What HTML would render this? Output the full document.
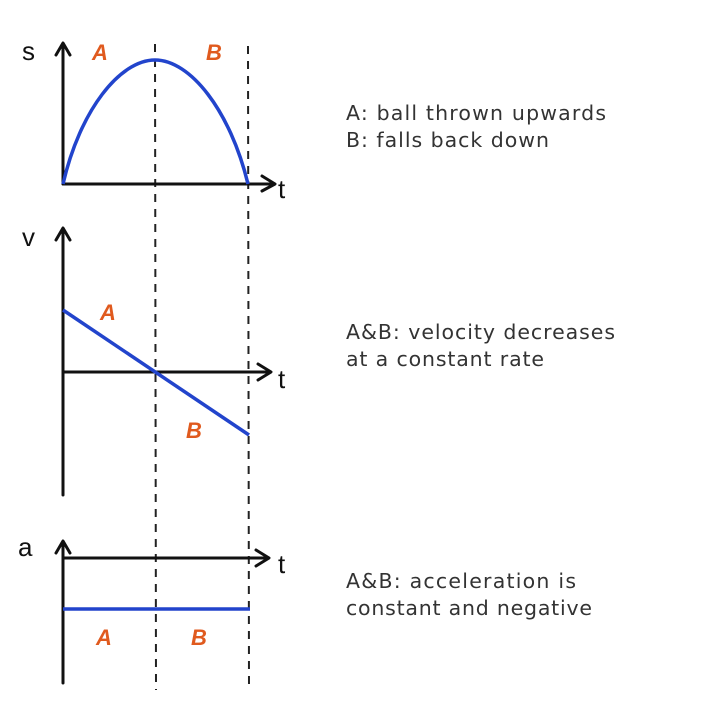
<!DOCTYPE html>
<html><head><meta charset="utf-8"><style>
html,body{margin:0;padding:0;background:#fff;}
svg{display:block}
</style></head><body>
<svg width="720" height="715" viewBox="0 0 720 715" xmlns="http://www.w3.org/2000/svg">
<rect width="720" height="715" fill="#fff"/>
<g stroke="#222" stroke-width="2" stroke-dasharray="8,7" fill="none">
<line x1="155" y1="44" x2="156" y2="690"/>
<line x1="248" y1="46" x2="249" y2="690"/>
</g>
<g stroke="#111" stroke-width="3" fill="none" stroke-linecap="round" stroke-linejoin="round">
<line x1="63" y1="184" x2="63" y2="44"/>
<polyline points="56,55 63,43 70,55"/>
<line x1="63" y1="184" x2="274" y2="184"/>
<polyline points="262,176 275,184 262,191"/>
<line x1="63" y1="495" x2="63" y2="229"/>
<polyline points="56,240 63,228 70,240"/>
<line x1="63" y1="372" x2="270" y2="372"/>
<polyline points="258,364 271,372 258,380"/>
<line x1="63" y1="683" x2="63" y2="542"/>
<polyline points="56,553 63,541 70,553"/>
<line x1="63" y1="558" x2="268" y2="558"/>
<polyline points="256,550 269,558 256,566"/>
</g>
<g stroke="#2244cc" stroke-width="3.5" fill="none">
<path d="M63,184 C80,110 120,60 155,60 C190,60 230,110 248,184"/>
<line x1="63" y1="310" x2="249" y2="435"/>
<line x1="63" y1="609" x2="250" y2="609"/>
</g>
<g font-family="Liberation Sans, sans-serif" font-weight="bold" font-style="italic" fill="#e05a1e" font-size="22">
<text x="92" y="60">A</text>
<text x="206" y="60">B</text>
<text x="100" y="320">A</text>
<text x="186" y="438">B</text>
<text x="96" y="645">A</text>
<text x="191" y="645">B</text>
</g>
<g font-family="Liberation Sans, sans-serif" fill="#111" font-size="26">
<text x="22" y="60">s</text>
<text x="278" y="198">t</text>
<text x="22" y="246">v</text>
<text x="278" y="388">t</text>
<text x="18" y="556">a</text>
<text x="278" y="573">t</text>
</g>
<g font-family="DejaVu Sans, sans-serif" fill="#333" font-size="20.5">
<text x="346" y="120" textLength="260">A: ball thrown upwards</text>
<text x="346" y="147" textLength="203">B: falls back down</text>
<text x="346" y="339" textLength="269">A&amp;B: velocity decreases</text>
<text x="346" y="366" textLength="198">at a constant rate</text>
<text x="346" y="588" textLength="230">A&amp;B: acceleration is</text>
<text x="346" y="615" textLength="246">constant and negative</text>
</g>
</svg>
</body></html>
